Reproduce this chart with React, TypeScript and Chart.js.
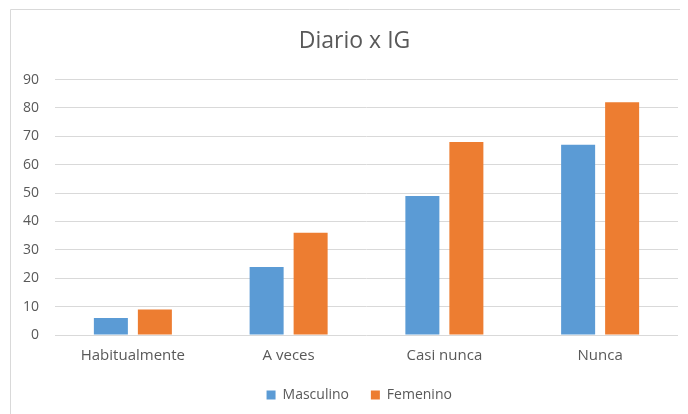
import React, { useEffect, useRef } from "react";
import { Chart, registerables } from "chart.js";

Chart.register(...registerables);

const categories = ["Habitualmente", "A veces", "Casi nunca", "Nunca"];
const masculino = [6, 24, 49, 67];
const femenino = [9, 36, 68, 82];
const seriesNames = ["Masculino", "Femenino"];
const titleText = "Diario x IG";

const FONT = "'Open Sans', 'Liberation Sans', sans-serif";
const TEXT = "#595959";

const framePlugin = {
  id: "frame",
  beforeDraw(chart: any) {
    const ctx = chart.ctx;
    ctx.save();
    ctx.strokeStyle = "#d9d9d9";
    ctx.lineWidth = 1;
    ctx.beginPath();
    ctx.moveTo(2.5, chart.height);
    ctx.lineTo(2.5, 1.5);
    ctx.lineTo(chart.width, 1.5);
    ctx.stroke();
    ctx.restore();
  },
};

export default function App() {
  const ref = useRef<HTMLCanvasElement | null>(null);
  useEffect(() => {
    if (!ref.current) return;
    const defaultLabels = Chart.defaults.plugins.legend.labels.generateLabels;
    const chart = new Chart(ref.current, {
      type: "bar",
      data: {
        labels: categories,
        datasets: [
          {
            label: seriesNames[0],
            data: masculino,
            backgroundColor: "#5B9BD5",
            barPercentage: 0.773,
            categoryPercentage: 0.565,
          },
          {
            label: seriesNames[1],
            data: femenino,
            backgroundColor: "#ED7D31",
            barPercentage: 0.773,
            categoryPercentage: 0.565,
          },
        ],
      },
      options: {
        animation: false,
        responsive: false,
        maintainAspectRatio: false,
        layout: { padding: { left: 0, right: 10, top: 0, bottom: 2 } },
        plugins: {
          title: {
            display: true,
            fullSize: false,
            text: titleText + "    ",
            color: TEXT,
            font: { family: FONT, size: 23, weight: "normal" },
            padding: { top: 20, bottom: 24 },
          },
          legend: {
            position: "bottom",
            fullSize: false,
            labels: {
              color: TEXT,
              font: { family: FONT, size: 14 },
              boxWidth: 9,
              boxHeight: 9,
              padding: 11,
              generateLabels(c: any) {
                const items = defaultLabels(c);
                return items.map((it: any, i: number) =>
                  i < items.length - 1
                    ? { ...it, text: it.text + "   " }
                    : { ...it, text: it.text + "    " }
                );
              },
            },
          },
          tooltip: { enabled: false },
        },
        scales: {
          x: {
            grid: { display: false, drawTicks: false },
            border: { display: false },
            ticks: {
              color: TEXT,
              font: { family: FONT, size: 15 },
              padding: 12,
            },
          },
          y: {
            min: 0,
            max: 90,
            grid: { color: "#d9d9d9", drawTicks: false },
            border: { display: false },
            ticks: {
              stepSize: 10,
              color: TEXT,
              font: { family: FONT, size: 14 },
              padding: 16,
            },
            afterFit(scale: any) {
              scale.width = 47;
            },
          },
        },
      },
      plugins: [framePlugin],
    });
    return () => chart.destroy();
  }, []);
  return (
    <div style={{ width: 680, height: 406 }}>
      <canvas ref={ref} width={680} height={406} style={{ display: "block" }} />
    </div>
  );
}
